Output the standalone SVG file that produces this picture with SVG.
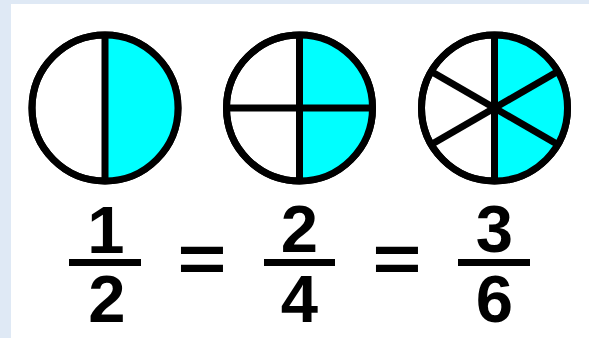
<svg xmlns="http://www.w3.org/2000/svg" width="589" height="338" viewBox="0 0 589 338">
<style>
.ring{fill:#ffffff;stroke:#000;stroke-width:7}
.half{fill:#00ffff}
.div{stroke:#000;stroke-width:7;stroke-linecap:butt;fill:none}
.bar{stroke:#000;stroke-width:7}
.num{font-family:"Liberation Sans",Arial,sans-serif;font-weight:bold;font-size:67px;fill:#000;text-anchor:middle}
</style>
<rect width="589" height="338" fill="#dfe9f5"/>
<rect x="11" y="4" width="578" height="334" fill="#ffffff"/>
<g id="circle-half">
<circle class="ring" cx="105" cy="108" r="73"/>
<path class="half" d="M105,35 A73,73 0 0 1 105,181 Z"/>
<circle cx="105" cy="108" r="73" fill="none" stroke="#000" stroke-width="7"/>
<line class="div" x1="105" y1="35" x2="105" y2="181"/>
</g>
<g id="circle-quarters">
<circle class="ring" cx="299.5" cy="108" r="73"/>
<path class="half" d="M299.5,35 A73,73 0 0 1 299.5,181 Z"/>
<circle cx="299.5" cy="108" r="73" fill="none" stroke="#000" stroke-width="7"/>
<line class="div" x1="299.5" y1="35" x2="299.5" y2="181"/>
<line class="div" x1="226.5" y1="108" x2="372.5" y2="108"/>
</g>
<g id="circle-sixths">
<circle class="ring" cx="494.5" cy="108" r="73"/>
<path class="half" d="M494.5,35 A73,73 0 0 1 494.5,181 Z"/>
<circle cx="494.5" cy="108" r="73" fill="none" stroke="#000" stroke-width="7"/>
<line class="div" x1="494.5" y1="35" x2="494.5" y2="181"/>
<line class="div" x1="431.3" y1="71.5" x2="557.7" y2="144.5"/>
<line class="div" x1="431.3" y1="144.5" x2="557.7" y2="71.5"/>
</g>
<g id="fraction-1-2">
<text class="num" x="106" y="253">1</text>
<line class="bar" x1="69" y1="262.5" x2="141" y2="262.5"/>
<text class="num" x="107" y="322">2</text>
</g>
<g id="equals-1">
<text class="num" transform="translate(202,282) scale(1.25,1)">=</text>
</g>
<g id="fraction-2-4">
<text class="num" x="299.5" y="252">2</text>
<line class="bar" x1="264" y1="262.5" x2="335" y2="262.5"/>
<text class="num" x="299.5" y="322">4</text>
</g>
<g id="equals-2">
<text class="num" transform="translate(397,282) scale(1.25,1)">=</text>
</g>
<g id="fraction-3-6">
<text class="num" x="494.5" y="252">3</text>
<line class="bar" x1="458" y1="262.5" x2="530" y2="262.5"/>
<text class="num" x="494.5" y="322">6</text>
</g>
</svg>
